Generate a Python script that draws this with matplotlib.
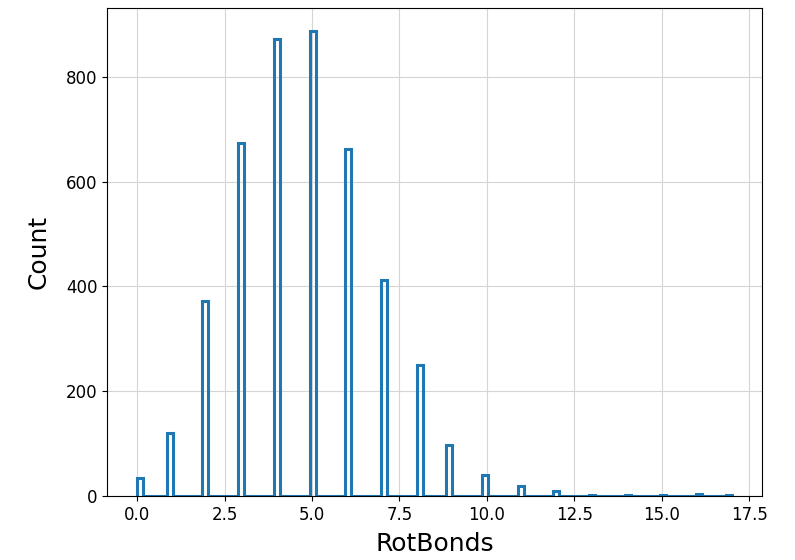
import numpy as np
import matplotlib
matplotlib.use("Agg")
import matplotlib.pyplot as plt

# rotatable bond counts
rot_bonds = np.arange(0, 18)
counts = [35, 120, 373, 673, 872, 887, 662, 412, 251, 98, 40, 19, 9, 3, 2, 3, 4, 3]

values = np.repeat(rot_bonds, counts)

fig, ax = plt.subplots(figsize=(7.95, 5.6), dpi=100)
fig.subplots_adjust(left=0.135, right=0.958, top=0.986, bottom=0.114)
ax.hist(values, bins=100, histtype="step", linewidth=2.2, color="#1f77b4")
ax.grid(True, color="#d5d5d5", linewidth=0.8)
ax.set_axisbelow(True)
ax.set_xlabel("RotBonds", fontsize=18, labelpad=6)
ax.set_ylabel("Count", fontsize=18, labelpad=11)
ax.tick_params(labelsize=12)
fig.savefig("out.png", dpi=100)
